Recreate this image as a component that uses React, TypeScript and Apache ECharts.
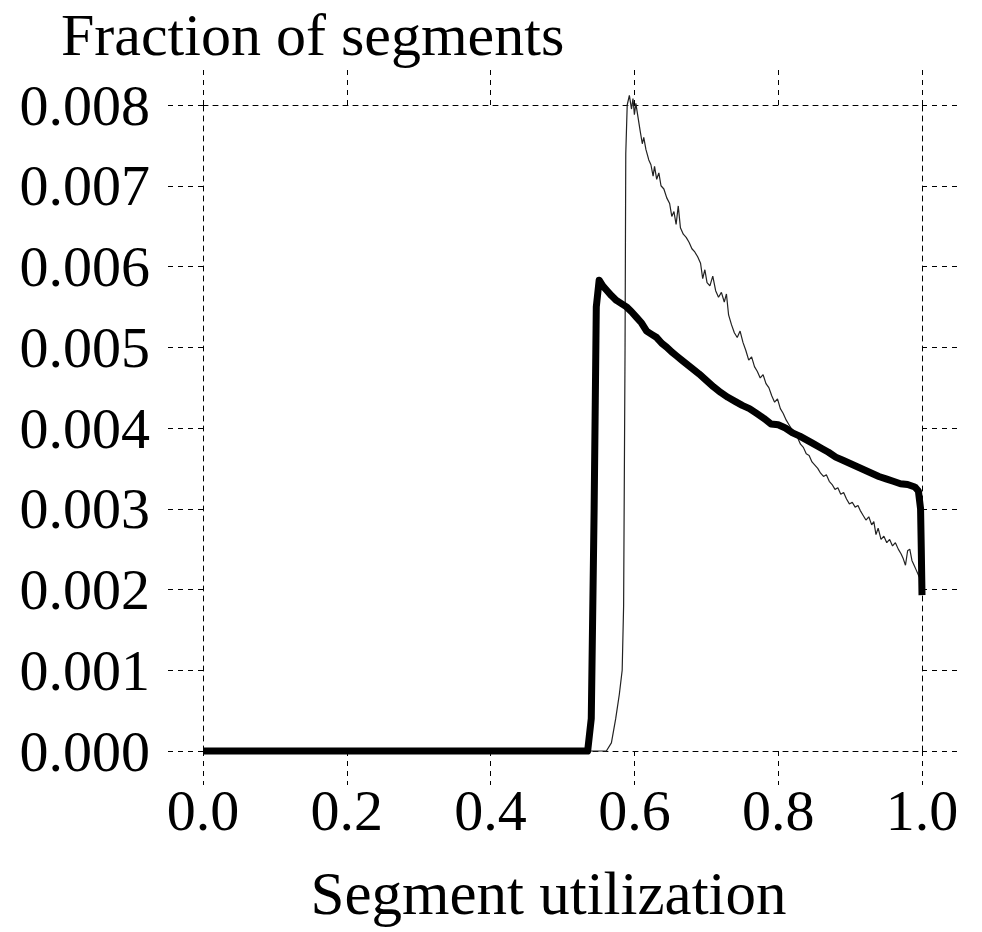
import React, { useEffect, useRef } from "react";
import * as echarts from "echarts";

const xTicks = [0, 0.2, 0.4, 0.6, 0.8, 1.0];
const yTicks = [0, 0.001, 0.002, 0.003, 0.004, 0.005, 0.006, 0.007, 0.008];

const thinX = [
  0, 0.561, 0.568, 0.574, 0.579, 0.583, 0.585, 0.587, 0.588, 0.59, 0.593, 0.596, 0.598, 0.6, 0.602,
  0.605, 0.608, 0.611, 0.613, 0.616, 0.62, 0.623, 0.626, 0.628, 0.631, 0.634, 0.637, 0.641, 0.645,
  0.649, 0.652, 0.655, 0.658, 0.661, 0.664, 0.668, 0.672, 0.676, 0.68, 0.684, 0.688, 0.692, 0.695,
  0.698, 0.701, 0.705, 0.709, 0.713, 0.717, 0.721, 0.725, 0.728, 0.731, 0.735, 0.739, 0.743, 0.747,
  0.751, 0.755, 0.759, 0.763, 0.767, 0.771, 0.775, 0.779, 0.783, 0.787, 0.791, 0.795, 0.799, 0.803,
  0.807, 0.811, 0.815, 0.819, 0.823, 0.827, 0.831, 0.835, 0.839, 0.843, 0.847, 0.851, 0.855, 0.859,
  0.863, 0.867, 0.871, 0.875, 0.879, 0.883, 0.887, 0.891, 0.895, 0.899, 0.903, 0.907, 0.911, 0.914,
  0.918, 0.922, 0.926, 0.93, 0.933, 0.936, 0.939, 0.943, 0.947, 0.951, 0.955, 0.959, 0.963, 0.967,
  0.971, 0.974, 0.977, 0.98, 0.983, 0.986, 0.989, 0.992, 0.995, 0.998, 1.0,
];
const thinY = [
  0, 0, 0.0001, 0.0004, 0.0007, 0.001, 0.0018, 0.005, 0.0074, 0.008, 0.00812, 0.00795, 0.00808,
  0.00788, 0.00802, 0.00785, 0.00768, 0.00752, 0.0076, 0.00745, 0.00732, 0.00726, 0.00712, 0.00724,
  0.00708, 0.00716, 0.007, 0.00696, 0.00685, 0.00678, 0.00662, 0.00668, 0.00652, 0.00675, 0.00648,
  0.0064, 0.00636, 0.0063, 0.00622, 0.00618, 0.00612, 0.00604, 0.00585, 0.00596, 0.0058, 0.00576,
  0.00588, 0.0057, 0.00562, 0.00568, 0.00556, 0.00566, 0.0054, 0.00528, 0.00518, 0.00512, 0.0052,
  0.00506, 0.00496, 0.00484, 0.00488, 0.00476, 0.0047, 0.00462, 0.00466, 0.00455, 0.0045, 0.0044,
  0.00432, 0.00436, 0.00424, 0.00418, 0.0041, 0.00404, 0.00398, 0.00395, 0.00388, 0.0038, 0.00376,
  0.00368, 0.00366, 0.00358, 0.00354, 0.0035, 0.00344, 0.0034, 0.00342, 0.00334, 0.0033, 0.00324,
  0.00326, 0.00318, 0.0032, 0.00312, 0.00306, 0.00308, 0.00302, 0.00304, 0.00298, 0.00292, 0.00286,
  0.0029, 0.0028, 0.00284, 0.00268, 0.00276, 0.00262, 0.00266, 0.00258, 0.00262, 0.00254, 0.00258,
  0.0025, 0.00244, 0.00238, 0.0023, 0.00248, 0.0025, 0.00236, 0.0023, 0.00224, 0.00218, 0.00212,
  0.00202, 0.00195,
];

const thickX = [
  0, 0.535, 0.54, 0.544, 0.547, 0.551, 0.556, 0.562, 0.568, 0.575, 0.582, 0.589, 0.596, 0.603, 0.61,
  0.617, 0.624, 0.631, 0.638, 0.645, 0.652, 0.659, 0.666, 0.673, 0.68, 0.69, 0.7, 0.71, 0.72, 0.73,
  0.74, 0.75, 0.76, 0.77, 0.78, 0.79, 0.8, 0.81, 0.82, 0.83, 0.84, 0.85, 0.86, 0.87, 0.88, 0.89, 0.9,
  0.91, 0.92, 0.93, 0.94, 0.95, 0.96, 0.97, 0.98, 0.99, 0.995, 0.998, 0.999, 1.0,
];
const thickY = [
  0, 0, 0.0004, 0.003, 0.0055, 0.00583, 0.00576, 0.0057, 0.00564, 0.00558, 0.00554, 0.0055, 0.00544,
  0.00537, 0.0053, 0.0052, 0.00516, 0.00512, 0.00505, 0.005, 0.00494, 0.00489, 0.00484, 0.00479,
  0.00474, 0.00467, 0.00459, 0.00451, 0.00444, 0.00438, 0.00433, 0.00428, 0.00424, 0.00418, 0.00412,
  0.00405, 0.00404, 0.004, 0.00394, 0.0039, 0.00385, 0.0038, 0.00375, 0.0037, 0.00364, 0.0036,
  0.00356, 0.00352, 0.00348, 0.00344, 0.0034, 0.00337, 0.00334, 0.00331, 0.0033, 0.00327, 0.00322,
  0.003, 0.0025, 0.00193,
];

const FONT = "'Liberation Serif', 'Times New Roman', serif";
const DASH = [5, 5];

export default function App() {
  const ref = useRef<HTMLDivElement>(null);
  useEffect(() => {
    if (!ref.current) return;
    const chart = echarts.init(ref.current, null, { renderer: "svg" });
    const lineStyleDash = { color: "#000", width: 1, type: DASH };
    const xBase = {
      type: "value",
      min: xTicks[0],
      max: xTicks[xTicks.length - 1],
      interval: 0.2,
      splitLine: { show: false },
      axisLine: { show: true, onZero: false, lineStyle: lineStyleDash },
    };
    const yBase = {
      type: "value",
      min: yTicks[0],
      max: yTicks[yTicks.length - 1],
      interval: 0.001,
      splitLine: { show: false },
      axisLine: { show: true, onZero: false, lineStyle: lineStyleDash },
    };
    chart.setOption({
      animation: false,
      backgroundColor: "#fff",
      title: {
        text: "Fraction of segments",
        left: 61,
        top: 7,
        padding: 0,
        textStyle: {
          fontFamily: FONT,
          fontSize: 60,
          lineHeight: 56,
          fontWeight: "normal",
          color: "#000",
        },
      },
      grid: { left: 203, right: 60, top: 105, bottom: 181, containLabel: false },
      xAxis: [
        {
          ...xBase,
          position: "bottom",
          axisTick: { show: true, inside: false, length: 34, lineStyle: lineStyleDash },
          axisLabel: {
            show: true,
            margin: 30,
            fontFamily: FONT,
            fontSize: 58,
            color: "#000",
            formatter: (v: number) => v.toFixed(1),
          },
          name: "Segment utilization",
          nameLocation: "middle",
          nameGap: 112,
          nameTextStyle: {
            fontFamily: FONT,
            fontSize: 61,
            color: "#000",
            padding: [0, 28, 0, 0],
          },
        },
        {
          ...xBase,
          position: "top",
          axisTick: { show: true, inside: false, length: 40, lineStyle: lineStyleDash },
          axisLabel: { show: false },
        },
      ],
      yAxis: [
        {
          ...yBase,
          position: "left",
          axisTick: { show: true, inside: false, length: 38, lineStyle: lineStyleDash },
          axisLabel: {
            show: true,
            margin: 53,
            fontFamily: FONT,
            fontSize: 58,
            color: "#000",
            formatter: (v: number) => v.toFixed(3),
          },
        },
        {
          ...yBase,
          position: "right",
          axisTick: { show: true, inside: false, length: 36, lineStyle: lineStyleDash },
          axisLabel: { show: false },
        },
      ],
      series: [
        {
          type: "line",
          xAxisIndex: 0,
          yAxisIndex: 0,
          showSymbol: false,
          clip: false,
          data: thinX.map((x, i) => [x, thinY[i]]),
          lineStyle: { color: "#222", width: 1.2 },
          z: 2,
        },
        {
          type: "line",
          xAxisIndex: 0,
          yAxisIndex: 0,
          showSymbol: false,
          clip: false,
          data: thickX.map((x, i) => [x, thickY[i]]),
          lineStyle: { color: "#000", width: 7, join: "round", cap: "butt" },
          z: 3,
        },
      ],
    });
    return () => chart.dispose();
  }, []);
  return <div ref={ref} style={{ width: 982, height: 932, position: "absolute", left: 0, top: 0 }} />;
}
